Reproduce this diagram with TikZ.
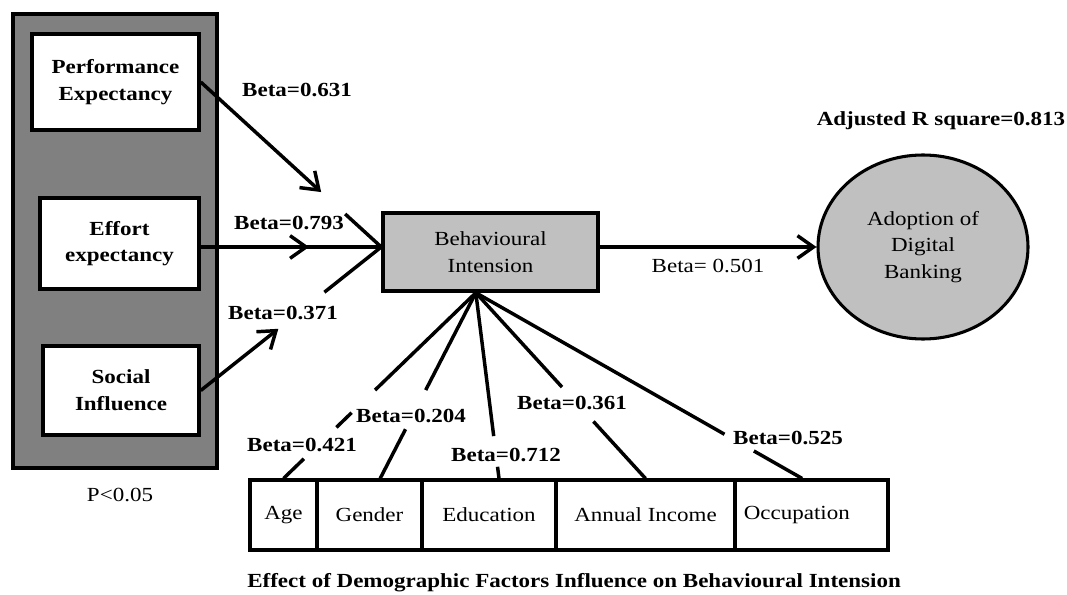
\documentclass[tikz,border=0pt]{standalone}
\usepackage{fontspec}
\setmainfont{Liberation Serif}[FakeStretch=1.15]
\usetikzlibrary{arrows.meta,shapes.geometric,calc}
\definecolor{dgray}{HTML}{808080}
\definecolor{lgray}{HTML}{C0C0C0}
\begin{document}
\begin{tikzpicture}[x=0.75pt,y=-0.75pt,
 every node/.style={font=\fontsize{15}{20}\selectfont, inner sep=0pt},
 wbox/.style={draw, line width=2.6pt, fill=white, align=center, font=\fontsize{15}{20}\selectfont\bfseries},
 ln/.style={line width=2.6pt},
 arr/.style={line width=2.6pt, -{Straight Barb[length=12pt,width=17pt]}},
 lbl/.style={font=\fontsize{15}{18}\selectfont\bfseries},
 cell/.style={draw, line width=2.3pt, minimum height=52.5pt, inner sep=0pt}
]
\useasboundingbox (0,0) rectangle (1067,595);
% left group
\node[draw, line width=3pt, fill=dgray, minimum width=153pt, minimum height=340.5pt] (grp) at (115,241) {};
\node[wbox, minimum width=125.25pt, minimum height=72pt] (pe) at (115.5,82) {Performance\\Expectancy};
\node[wbox, minimum width=119.25pt, minimum height=68.25pt] (ee) at (119.5,243.5) {Effort\\expectancy};
\node[wbox, minimum width=117pt, minimum height=66.75pt] (si) at (121,390.5) {Social\\Influence};
\node (p) at (120,495) {P<0.05};
% centre and outcome
\node[draw, line width=2.6pt, fill=lgray, align=center, minimum width=161.25pt, minimum height=58.5pt] (bi) at (490.5,252) {Behavioural\\Intension};
\node[ellipse, draw, line width=2.3pt, fill=lgray, align=center, minimum width=157.5pt, minimum height=138pt] (adb) at (923,247) {Adoption of\\Digital\\Banking};
\node[lbl] (adj) at (941,121) {Adjusted R square=0.813};
% table
\node[cell, minimum width=50.25pt] (age) at (283.5,515) {Age};
\node[cell, minimum width=78.75pt] (gen) at (369.5,515) {Gender};
\node[cell, minimum width=100.5pt] (edu) at (489,515) {Education};
\node[cell, minimum width=134.25pt] (inc) at (645.5,515) {Annual Income};
\node[cell, minimum width=114.75pt] (occ) at (811.5,515) {\hspace*{-22pt}Occupation};
\node[lbl, anchor=west] (cap) at (247,583) {Effect of Demographic Factors Influence on Behavioural Intension};
% labels
\node[lbl] (b631) at (297,90) {Beta=0.631};
\node[lbl] (b793) at (289,223) {Beta=0.793};
\node[lbl] (b371) at (283,313) {Beta=0.371};
\node (b501) at (708,266) {Beta= 0.501};
\node[lbl] (b421) at (302,445) {Beta=0.421};
\node[lbl] (b204) at (411,416) {Beta=0.204};
\node[lbl] (b712) at (506,455) {Beta=0.712};
\node[lbl] (b361) at (572,403) {Beta=0.361};
\node[lbl] (b525) at (788,438) {Beta=0.525};
% top connectors
\coordinate (bin) at (bi.west |- adb.center);
\path (pe.east) -- (bin) coordinate[pos=0.667] (pa) coordinate[pos=0.80] (pb);
\draw[arr] (pe.east) -- (pa);
\draw[ln] (pb) -- (bin);
\path (ee.east |- bin) -- (bin) coordinate[pos=0.6] (ea);
\draw[ln] (ee.east |- bin) -- (bin);
\draw[arr] (ee.east |- bin) -- (ea);
\path (si.east) -- (bin) coordinate[pos=0.43] (sa) coordinate[pos=0.685] (sb);
\draw[arr] (si.east) -- (sa);
\draw[ln] (sb) -- (bin);
\draw[arr] (adb.west -| bi.east) -- (adb.west);
% fan to demographics
\coordinate (fan) at ([xshift=-11pt]bi.south);
\coordinate (tage) at (age.north);
\coordinate (tgen) at ([xshift=8pt]gen.north);
\coordinate (tedu) at ([xshift=7.5pt]edu.north);
\coordinate (tinc) at (inc.north);
\coordinate (tocc) at ([xshift=-7pt]occ.north);
\path (fan) -- (tage) coordinate[pos=0.524] (a1) coordinate[pos=0.646] (a2) coordinate[pos=0.725] (a3) coordinate[pos=0.894] (a4);
\draw[ln] (fan) -- (a1) (a2) -- (a3) (a4) -- (tage);
\path (fan) -- (tgen) coordinate[pos=0.524] (g1) coordinate[pos=0.735] (g2);
\draw[ln] (fan) -- (g1) (g2) -- (tgen);
\path (fan) -- (tedu) coordinate[pos=0.772] (d1) coordinate[pos=0.937] (d2);
\draw[ln] (fan) -- (d1) (d2) -- (tedu);
\path (fan) -- (tinc) coordinate[pos=0.508] (i1) coordinate[pos=0.693] (i2);
\draw[ln] (fan) -- (i1) (i2) -- (tinc);
\path (fan) -- (tocc) coordinate[pos=0.762] (o1) coordinate[pos=0.852] (o2);
\draw[ln] (fan) -- (o1) (o2) -- (tocc);
\end{tikzpicture}
\end{document}
